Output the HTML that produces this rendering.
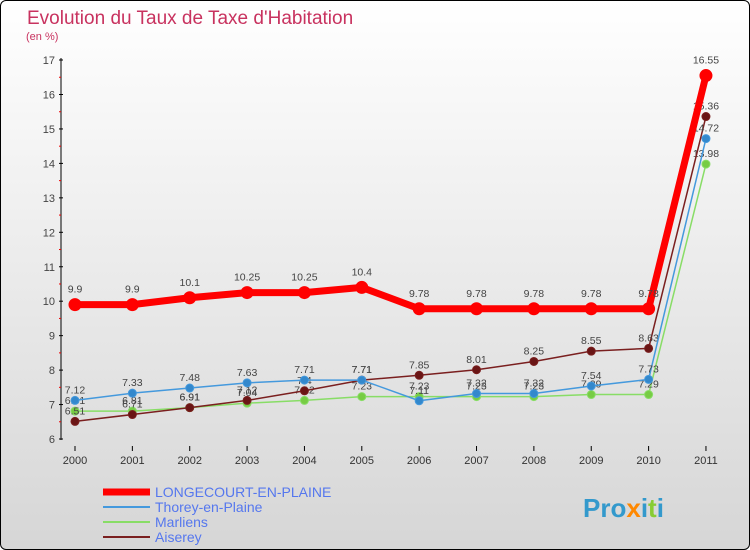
<!DOCTYPE html>
<html><head><meta charset="utf-8"><style>
body{margin:0;width:750px;height:550px;overflow:hidden;font-family:"Liberation Sans",sans-serif}
#wrap{position:absolute;left:0;top:0;width:748px;height:548px;border:1px solid #000;border-radius:6px;background:linear-gradient(#fff,#d6d6d6);overflow:hidden}
</style></head><body>
<div id="wrap">
<svg id="c" width="750" height="550" style="position:absolute;left:-1px;top:-1px"></svg>
</div>
<script>
const years=[2000,2001,2002,2003,2004,2005,2006,2007,2008,2009,2010,2011];
const longecourt=[9.9,9.9,10.1,10.25,10.25,10.4,9.78,9.78,9.78,9.78,9.78,16.55];
const thorey=[7.12,7.33,7.48,7.63,7.71,7.71,7.11,7.32,7.32,7.54,7.73,14.72];
const marliens=[6.81,6.81,6.91,7.04,7.12,7.23,7.23,7.23,7.23,7.29,7.29,13.98];
const aiserey=[6.51,6.71,6.91,7.12,7.4,7.71,7.85,8.01,8.25,8.55,8.63,15.36];
const yTicks=[6,7,8,9,10,11,12,13,14,15,16,17];
const seriesNames=["LONGECOURT-EN-PLAINE","Thorey-en-Plaine","Marliens","Aiserey"];
const NS="http://www.w3.org/2000/svg";
const svg=document.getElementById('c');
const x=i=>75+i*57.36;
const y=v=>439-(v-6)*34.45;
function mk(t,a,p){const e=document.createElementNS(NS,t);for(const k in a)e.setAttribute(k,a[k]);(p||svg).appendChild(e);return e;}
let t=mk('text',{x:27,y:24,fill:'#c8325f','font-size':19});t.textContent="Evolution du Taux de Taxe d'Habitation";


t=mk('text',{x:26,y:40,fill:'#c8325f','font-size':11});t.textContent="(en %)";


let ax=mk('line',{x1:61,y1:58,x2:61,y2:440,stroke:'#000'});


yTicks.forEach(v=>{
 mk('line',{x1:59,x2:63,y1:y(v),y2:y(v),stroke:'#000'});
 if(v<17)mk('line',{x1:59,x2:61,y1:y(v+0.5),y2:y(v+0.5),stroke:'#e00'});
 const l=mk('text',{x:55,y:y(v)+4,'text-anchor':'end','font-size':11,fill:'#444'});l.textContent=v;
 
 
});
years.forEach((yr,i)=>{
 mk('line',{x1:x(i),x2:x(i),y1:446,y2:451,stroke:'#000'});
 const l=mk('text',{x:x(i),y:464,'text-anchor':'middle','font-size':11,fill:'#333'});l.textContent=yr;
 
 
});
function series(data,color,dot,w,r,name,lblOff){
 const g=mk('g',{});
 
 
 mk('polyline',{points:data.map((v,i)=>x(i)+','+y(v)).join(' '),fill:'none',stroke:color,'stroke-width':w,'stroke-linejoin':'round'},g);
 data.forEach((v,i)=>{
  const c=mk('circle',{cx:x(i),cy:y(v),r:r,fill:dot,stroke:color,'stroke-width':1},g);
  
  
  const l=mk('text',{x:x(i),y:y(v)+lblOff,'text-anchor':'middle','font-size':10.5,fill:'#444'},g);l.textContent=v;
 });
}
series(marliens,'#88dd66','#77cc44',1.5,4,'series-marliens',-7);
series(aiserey,'#7a1f1f','#6a1515',1.5,4,'series-aiserey',-7);
series(thorey,'#4499dd','#3388cc',1.5,4,'series-thorey',-7);
series(longecourt,'#ff0000','#ff0000',7,6,'series-longecourt',-12);
const lc=['#ff0000','#4499dd','#88dd66','#7a1f1f'],lw=[7,2,2,2];
seriesNames.forEach((n,i)=>{
 const yy=492+i*15;
 const g=mk('g',{});
 
 
 mk('line',{x1:103,x2:150,y1:yy,y2:yy,stroke:lc[i],'stroke-width':lw[i]},g);
 const l=mk('text',{x:155,y:yy+5,'font-size':14,fill:'#5577ee'},g);l.textContent=n;
});
t=mk('text',{x:583,y:517,'font-size':26,'font-weight':'bold',fill:'#3399cc'});t.innerHTML='Pro<tspan fill="#ff8800">x</tspan>i<tspan fill="#88cc33">t</tspan>i';


</script>
</body></html>
